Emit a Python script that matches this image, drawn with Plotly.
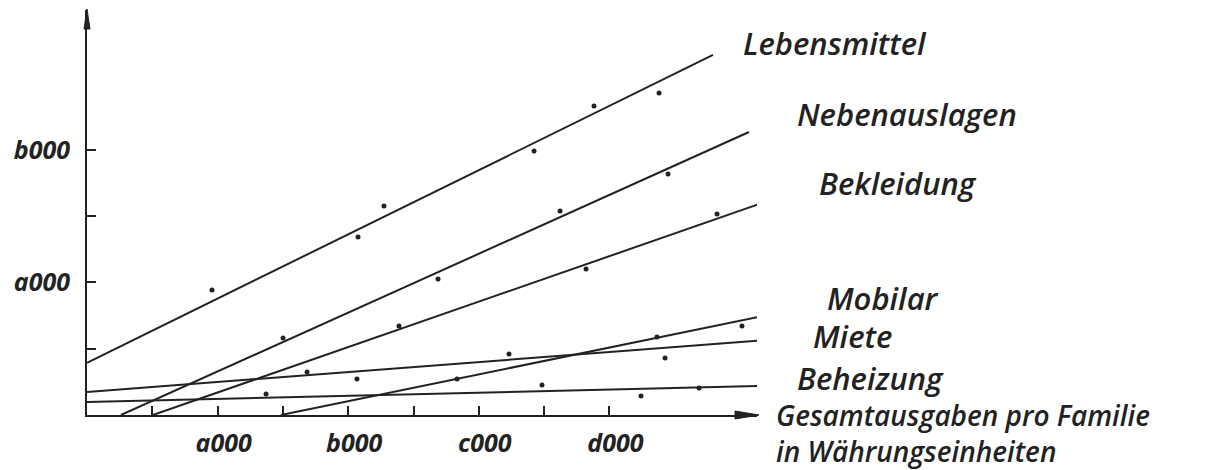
import plotly.graph_objects as go

# ---------------- data ----------------
categories = ["Lebensmittel", "Nebenauslagen", "Bekleidung", "Mobilar", "Miete", "Beheizung"]

# fitted lines (start / end of each drawn line)
line_x0 = [0, 260, 505, 1485, 0, 0]
line_y0 = [394, 0, 0, 0, 173, 98]
line_x1 = [4793, 5069, 5191, 5360, 5299, 5168]
line_y1 = [2715, 2134, 1606, 784, 573, 219]

# observed points
pts_x = [
    [957, 2075, 2274, 3423, 3882, 4380],
    [1501, 2688, 3622, 4449],
    [2389, 3821, 4824],
    [2833, 4364, 5015],
    [1685, 2067, 3231, 4426],
    [1371, 3484, 4242, 4686],
]
pts_y = [
    [943, 1342, 1576, 1991, 2330, 2428],
    [581, 1026, 1538, 1817],
    [671, 1101, 1516],
    [271, 588, 671],
    [324, 271, 460, 430],
    [158, 226, 143, 204],
]

x_tick_vals = [500, 1000, 1500, 2000, 2500, 3000, 3500, 4000]
x_tick_text = ["", "a000", "", "b000", "", "c000", "", "d000"]
y_tick_vals = [500, 1000, 1500, 2000]
y_tick_text = ["", "a000", "", "b000"]

x_title = ["Gesamtausgaben pro Familie", "in Währungseinheiten"]

# ---------------- styling / layout ----------------
INK = "#222222"
FONT = "Open Sans"
X_MAX = 5130
Y_MAX = 3054
PLOT_TOP, PLOT_BOTTOM = 10, 415

fig = go.Figure()

for i, name in enumerate(categories):
    fig.add_trace(go.Scatter(
        x=[line_x0[i], line_x1[i]], y=[line_y0[i], line_y1[i]],
        mode="lines", line=dict(color=INK, width=2), name=name,
        showlegend=False, hoverinfo="skip"))
    fig.add_trace(go.Scatter(
        x=pts_x[i], y=pts_y[i], mode="markers",
        marker=dict(color=INK, size=5), name=name, showlegend=False))

# label positions (paper x, pixel centre y) for each line label
label_pos = [
    (0.976, 43), (1.057, 114), (1.089, 183),
    (1.102, 298), (1.081, 336), (1.057, 378),
]
label_font = dict(family=FONT, size=31, color=INK, style="italic", weight=600)
for (px, cy), name in zip(label_pos, categories):
    fig.add_annotation(
        xref="paper", yref="paper", x=px,
        y=(PLOT_BOTTOM - cy) / (PLOT_BOTTOM - PLOT_TOP),
        xanchor="left", yanchor="middle", showarrow=False, text=name,
        font=label_font)

# axis title (two lines, left aligned)
fig.add_annotation(
    xref="paper", yref="paper", x=1.026,
    y=(PLOT_BOTTOM - 394) / (PLOT_BOTTOM - PLOT_TOP),
    xanchor="left", yanchor="top", align="left", showarrow=False,
    text="<br>".join(x_title),
    font=dict(family=FONT, size=28, color=INK, style="italic", weight=600))

# arrow heads on axes
fig.add_shape(type="path", xref="paper", yref="paper", xsizemode="pixel",
              ysizemode="pixel", xanchor=1, yanchor=0,
              path="M2,0 L-22,4 L-22,-4 Z", fillcolor=INK, line=dict(color=INK, width=1))
fig.add_shape(type="path", xref="paper", yref="paper", xsizemode="pixel",
              ysizemode="pixel", xanchor=0, yanchor=1,
              path="M0,1 L3,-19 L-3,-19 Z", fillcolor=INK, line=dict(color=INK, width=1))

tick_font = dict(family=FONT, size=25, color=INK, weight=700, style="italic")
fig.update_xaxes(range=[0, X_MAX], showline=True, linecolor=INK, linewidth=2,
                 ticks="inside", ticklen=9, tickwidth=1.5, tickcolor=INK,
                 tickvals=x_tick_vals, ticktext=x_tick_text, tickfont=tick_font,
                 showgrid=False, zeroline=False, ticklabelstandoff=5,
                 ticklabelshift=6)
fig.update_yaxes(range=[0, Y_MAX], showline=True, linecolor=INK, linewidth=2,
                 ticks="inside", ticklen=9, tickwidth=1.5, tickcolor=INK,
                 tickvals=y_tick_vals, ticktext=y_tick_text, tickfont=tick_font,
                 showgrid=False, zeroline=False, ticklabelstandoff=10)

fig.update_layout(width=1225, height=470,
                  margin=dict(l=87, r=1225 - 757, t=PLOT_TOP, b=470 - PLOT_BOTTOM),
                  paper_bgcolor="white", plot_bgcolor="white", showlegend=False)

fig.write_html("out.html", config={"displayModeBar": False},
               post_script="document.body.style.margin='0px';document.body.style.overflow='hidden';")
